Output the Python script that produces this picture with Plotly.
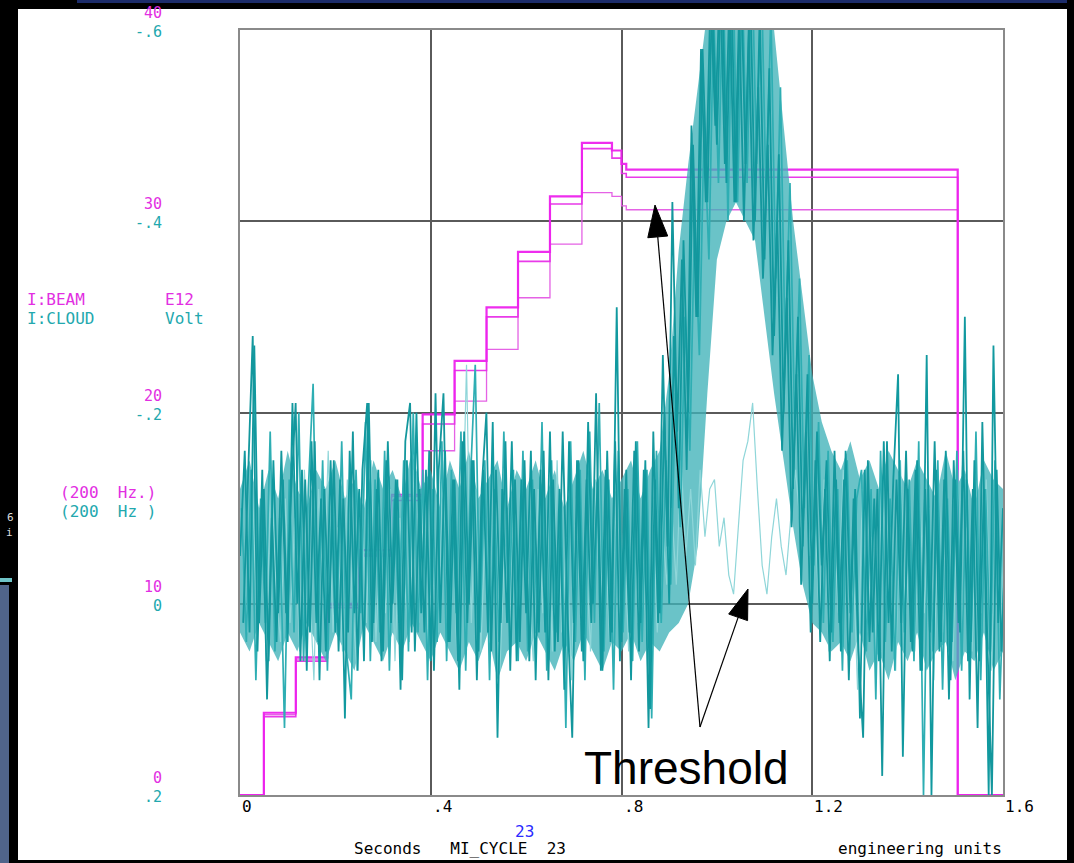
import numpy as np
import plotly.graph_objects as go

# ---------------- data ----------------
# cloud detector traces (Volt), sampled every 0.01 s from 0 to 1.6 s
t_cloud = np.round(np.arange(161) * 0.01, 4)

cloud_a = [
    -0.05, -0.16, 0.03, -0.27, 0.02, -0.12, 0.06, -0.15, 0.01, -0.13,
    0.04, -0.21, 0.00, -0.14, 0.07, -0.17, 0.02, -0.11, 0.05, -0.15,
    0.03, -0.13, 0.12, -0.16, 0.01, -0.12, 0.06, -0.21, 0.02, -0.14,
    0.05, -0.17, 0.00, -0.13, 0.08, -0.15, 0.03, -0.20, 0.01, -0.14,
    0.06, -0.22, 0.02, -0.16, 0.04, -0.13, 0.09, -0.18, 0.00, -0.15,
    0.05, -0.14, 0.03, -0.19, 0.14, -0.12, 0.02, -0.17, 0.06, -0.13,
    0.01, -0.16, 0.08, -0.14, 0.03, -0.18, 0.05, -0.12, 0.09, -0.17,
    0.02, -0.15, 0.06, -0.19, 0.00, -0.13, 0.07, -0.16, 0.03, -0.31,
    0.04, -0.14, 0.08, -0.17, 0.02, -0.15, 0.11, -0.13, 0.01, -0.20,
    0.00, -0.28, -0.10, -0.38, -0.20, -0.48, -0.30, -0.58, -0.42, -0.64,
    -0.48, -0.68, -0.44, -0.66, -0.42, -0.67, -0.46, -0.65, -0.40, -0.62,
    -0.36, -0.56, -0.28, -0.47, -0.20, -0.38, -0.12, -0.30, -0.06, -0.24,
    0.00, -0.18, -0.04, -0.15, 0.03, -0.13, 0.05, -0.16, 0.01, -0.12,
    0.12, -0.14, 0.04, -0.11, 0.06, -0.17, 0.02, -0.13, -0.24, 0.16,
    -0.12, 0.05, -0.15, 0.07, -0.26, 0.20, -0.14, 0.04, -0.16, 0.08,
    -0.13, 0.03, -0.30, 0.10, -0.15, 0.06, -0.12, 0.20, -0.27, 0.02,
    -0.10,
]

cloud_b = [
    -0.10, 0.04, -0.14, 0.08, -0.11, 0.02, -0.18, 0.05, -0.09, 0.13,
    -0.13, 0.03, -0.20, 0.06, -0.12, -0.23, 0.04, -0.15, 0.07, -0.12,
    0.02, -0.17, 0.05, 0.10, -0.14, 0.01, -0.19, 0.06, -0.13, 0.03,
    -0.16, 0.07, -0.11, 0.02, -0.15, 0.05, -0.20, 0.03, -0.14, 0.08,
    -0.12, 0.04, -0.17, 0.06, -0.14, 0.01, -0.18, 0.07, -0.13, -0.25,
    0.03, -0.15, 0.08, -0.12, 0.04, -0.18, 0.02, -0.14, 0.06, -0.16,
    0.05, -0.13, 0.02, -0.19, 0.07, -0.15, 0.03, -0.11, 0.13, -0.17,
    0.04, -0.14, 0.08, -0.18, 0.02, -0.21, 0.05, -0.13, 0.09, -0.16,
    0.03, -0.12, 0.06, -0.17, 0.04, -0.14, 0.12, -0.16, 0.02, -0.15,
    -0.02, -0.22, -0.08, -0.30, -0.16, -0.40, -0.26, -0.50, -0.36, -0.62,
    -0.44, -0.66, -0.40, -0.68, -0.42, -0.65, -0.44, -0.68, -0.46, -0.66,
    -0.42, -0.62, -0.34, -0.54, -0.26, -0.44, -0.18, -0.34, -0.10, -0.26,
    -0.04, -0.19, 0.02, -0.16, 0.04, -0.12, 0.07, -0.15, 0.03, -0.11,
    -0.14, 0.05, -0.12, 0.10, -0.16, 0.04, -0.11, 0.07, -0.15, 0.03,
    -0.13, 0.06, -0.17, 0.20, -0.12, 0.05, -0.15, 0.09, -0.11, 0.04,
    -0.16, 0.07, -0.13, 0.04, -0.18, 0.08, -0.12, 0.05, -0.15, 0.10,
    -0.05,
]

cloud_c = [
    0.02, -0.12, -0.28, 0.05, -0.14, 0.10, -0.09, 0.04, -0.16, 0.01,
    -0.11, -0.21, 0.06, -0.13, 0.03, -0.17, 0.08, -0.12, 0.02, -0.15,
    0.05, -0.11, 0.03, -0.18, 0.07, -0.14, -0.21, 0.04, -0.12, 0.06,
    -0.15, 0.02, -0.13, 0.09, -0.17, -0.21, 0.05, -0.12, 0.03, -0.16,
    0.07, -0.14, -0.22, 0.04, -0.13, 0.06, -0.17, 0.02, -0.15, 0.08,
    -0.12, -0.20, 0.05, -0.14, 0.02, -0.17, 0.07, -0.13, 0.04, -0.15,
    0.06, -0.12, 0.03, -0.16, 0.08, -0.13, 0.04, -0.18, 0.01, 0.14,
    -0.15, 0.05, -0.13, 0.02, -0.22, 0.07, -0.14, 0.04, -0.17, 0.06,
    -0.12, 0.03, -0.16, 0.05, -0.14, 0.13, -0.18, 0.02, -0.26, -0.06,
    -0.42, -0.18, -0.36, -0.14, -0.50, -0.30, -0.58, -0.42, -0.64, -0.50,
    -0.66, -0.46, -0.64, -0.42, -0.62, -0.40, -0.60, -0.38, -0.54, -0.34,
    -0.48, -0.26, -0.40, -0.16, -0.32, -0.08, -0.24, -0.02, -0.18, 0.03,
    -0.15, 0.04, -0.12, 0.06, -0.16, 0.02, -0.13, 0.08, -0.11, 0.05,
    0.14, -0.15, 0.03, -0.12, 0.18, -0.17, 0.05, -0.13, 0.02, -0.16,
    0.04, -0.14, 0.07, -0.12, 0.03, -0.17, 0.05, -0.13, 0.10, -0.15,
    0.02, -0.16, 0.06, -0.12, 0.13, -0.19, 0.03, 0.20, -0.14, 0.05,
    -0.08,
]

# the one cycle without the cloud peak ("threshold" trace)
cloud_q = [
    -0.06, 0.03, -0.13, 0.01, -0.10, 0.06, -0.15, -0.02, 0.04, -0.11,
    0.02, -0.09, 0.05, -0.14, -0.03, 0.08, -0.12, 0.00, -0.16, 0.03,
    -0.08, 0.05, -0.13, -0.01, 0.07, -0.10, 0.02, -0.15, 0.04, -0.07,
    0.01, -0.12, 0.06, -0.09, -0.02, 0.04, -0.14, 0.02, -0.10, 0.05,
    -0.07, 0.03, -0.15, 0.00, -0.11, 0.06, -0.04, -0.25, 0.02, -0.12,
    0.05, -0.09, 0.01, -0.14, 0.07, -0.06, 0.02, -0.13, 0.04, -0.10,
    -0.02, 0.06, -0.12, 0.01, -0.09, 0.05, -0.15, 0.03, -0.07, 0.08,
    -0.11, 0.02, -0.06, 0.05, -0.13, 0.00, -0.09, 0.04, -0.14, 0.01,
    -0.08, 0.05, -0.12, 0.02, -0.06, 0.07, -0.11, 0.03, -0.09, -0.02,
    -0.10, -0.02, -0.15, -0.05, -0.12, -0.04, -0.14, -0.07, -0.12, -0.13,
    -0.06, -0.09, -0.03, -0.01, -0.08, -0.15, -0.17, -0.21, -0.12, -0.04,
    -0.01, -0.07, -0.11, -0.06, -0.03, -0.09, -0.14, -0.08, -0.15, -0.05,
    -0.10, 0.02, -0.13, 0.05, -0.08, 0.01, -0.14, 0.04, -0.06, 0.09,
    -0.12, 0.03, -0.07, 0.06, -0.13, 0.00, -0.09, 0.07, -0.15, 0.02,
    -0.06, 0.05, -0.12, 0.01, -0.10, 0.08, -0.13, 0.03, -0.07, 0.06,
    -0.14, 0.02, -0.08, 0.05, -0.11, 0.01, -0.13, 0.07, -0.05, 0.03,
    -0.09,
]

# dense core of the overlaid cloud traces (Volt), every 0.02 s
t_core = np.round(np.arange(81) * 0.02, 4)
core_top = [
    -0.12, -0.15, -0.10, -0.14, -0.11, -0.16, -0.12, -0.10, -0.14, -0.12,
    -0.15, -0.11, -0.13, -0.10, -0.15, -0.12, -0.14, -0.11, -0.16, -0.12,
    -0.14, -0.10, -0.15, -0.12, -0.16, -0.11, -0.13, -0.15, -0.10, -0.14,
    -0.12, -0.15, -0.11, -0.14, -0.10, -0.13, -0.16, -0.12, -0.14, -0.11,
    -0.13, -0.15, -0.11, -0.14, -0.16, -0.24, -0.37, -0.46, -0.54, -0.62,
    -0.64, -0.64, -0.64, -0.64, -0.64, -0.64, -0.60, -0.50, -0.40, -0.32,
    -0.24, -0.19, -0.16, -0.14, -0.17, -0.13, -0.15, -0.12, -0.16, -0.14,
    -0.12, -0.15, -0.13, -0.11, -0.16, -0.12, -0.14, -0.10, -0.15, -0.13,
    -0.12,
]
core_bot = [
    0.03, 0.05, 0.02, 0.04, 0.06, 0.03, 0.05, 0.02, 0.04, 0.06,
    0.03, 0.05, 0.07, 0.02, 0.04, 0.06, 0.03, 0.05, 0.02, 0.04,
    0.06, 0.03, 0.05, 0.07, 0.04, 0.06, 0.03, 0.08, 0.05, 0.04,
    0.06, 0.03, 0.05, 0.07, 0.04, 0.06, 0.03, 0.05, 0.07, 0.04,
    0.05, 0.03, 0.06, 0.04, 0.05, 0.03, 0.02, 0.00, -0.06, -0.22,
    -0.36, -0.40, -0.42, -0.40, -0.38, -0.30, -0.22, -0.15, -0.08, -0.02,
    0.02, 0.03, 0.05, 0.04, 0.06, 0.03, 0.07, 0.05, 0.08, 0.04,
    0.06, 0.03, 0.07, 0.05, 0.04, 0.08, 0.05, 0.06, 0.03, 0.07,
    0.05,
]

# beam intensity (E12), stepped by booster batches
beam_t = [0, 0.05, 0.117, 0.183, 0.25, 0.317, 0.383, 0.45, 0.517, 0.583,
          0.65, 0.717, 0.78, 0.80, 0.81, 1.505, 1.6]
beam_main = [0, 4.3, 7.2, 10.0, 12.8, 15.7, 19.9, 22.7, 25.5, 28.4,
             31.3, 34.1, 33.7, 33.0, 32.7, 0, 0]
beam_b = [0, 4.1, 7.0, 9.8, 12.5, 15.4, 19.4, 22.2, 25.0, 27.9,
          30.9, 33.8, 33.3, 32.5, 32.3, 0, 0]
beam_low = [0, 4.2, 7.1, 9.9, 12.6, 15.6, 18.0, 20.6, 23.3, 26.0,
            28.8, 31.5, 31.3, 30.8, 30.6, 0, 0]

x_ticks = [0, 0.4, 0.8, 1.2, 1.6]
x_tick_text = ["0", ".4", ".8", "1.2", "1.6"]
beam_ticks = [40, 30, 20, 10, 0]
cloud_ticks = [-0.6, -0.4, -0.2, 0, 0.2]
cloud_tick_text = ["-.6", "-.4", "-.2", "0", ".2"]

# ---------------- layout helpers ----------------
W, H = 1074, 863
L, R, T, B = 240, 1003, 30, 795


def px(x):
    return (x - L) / (R - L)


def py(y):
    return (B - y) / (B - T)


MAG = "#e22ee2"
CYAN_TXT = "#22a8ae"
MONO = "DejaVu Sans Mono"
FS = 15

fig = go.Figure()

# dense core band
fig.add_trace(go.Scatter(x=t_core, y=core_bot, mode="lines", line=dict(width=0),
                         yaxis="y2", hoverinfo="skip", showlegend=False))
fig.add_trace(go.Scatter(x=t_core, y=core_top, mode="lines", line=dict(width=0),
                         fill="tonexty", fillcolor="rgba(64,178,184,0.78)",
                         yaxis="y2", hoverinfo="skip", showlegend=False))

cloud_styles = [
    (cloud_q, 0.005, "#8fd6d9", 1.2),
    (cloud_b, 0.0033, "#2eaeb3", 1.7),
    (cloud_a, 0.0, "#11999f", 1.8),
    (cloud_c, 0.0067, "#13979d", 1.8),
]
for vals, off, col, w in cloud_styles:
    fig.add_trace(go.Scatter(x=t_cloud + off, y=vals, mode="lines",
                             line=dict(color=col, width=w), yaxis="y2",
                             hoverinfo="skip", showlegend=False))

for vals, col, w in [(beam_low, "#e45ae4", 1.3), (beam_b, "#e830e8", 1.6),
                     (beam_main, "#ee22ee", 2.2)]:
    fig.add_trace(go.Scatter(x=beam_t, y=vals, mode="lines", line_shape="hv",
                             line=dict(color=col, width=w), opacity=0.95,
                             hoverinfo="skip", showlegend=False))

annotations = []
# x tick labels
for v, s in zip(x_ticks, x_tick_text):
    annotations.append(dict(x=v, y=py(806), xref="x", yref="paper", text=s,
                            showarrow=False, xanchor="left", yanchor="middle",
                            font=dict(family=MONO, size=16, color="black")))
# y tick labels (beam magenta above, cloud cyan below)
for v in beam_ticks:
    annotations.append(dict(x=px(164), y=v, xref="paper", yref="y", text=str(v),
                            showarrow=False, xanchor="right", yanchor="middle",
                            yshift=17, font=dict(family=MONO, size=FS, color=MAG)))
for v, s in zip(cloud_ticks, cloud_tick_text):
    annotations.append(dict(x=px(164), y=v, xref="paper", yref="y2", text=s,
                            showarrow=False, xanchor="right", yanchor="middle",
                            yshift=-2, font=dict(family=MONO, size=FS, color=CYAN_TXT)))

nb = "\u00a0"
labels = [
    ("I:BEAM", 25, 299, MAG, "left"),
    ("E12", 163, 299, MAG, "left"),
    ("I:CLOUD", 25, 318, CYAN_TXT, "left"),
    ("Volt", 163, 318, CYAN_TXT, "left"),
    ("(200" + nb * 2 + "Hz.)", 58, 492, MAG, "left"),
    ("(200" + nb * 2 + "Hz" + nb + ")", 58, 511, CYAN_TXT, "left"),
    ("23", 524, 831, "#2a2aff", "center"),
    ("Seconds" + nb * 3 + "MI_CYCLE" + nb * 2 + "23", 352, 848, "black", "left"),
    ("engineering" + nb + "units", 836, 848, "black", "left"),
]
for s, x, y, c, anc in labels:
    annotations.append(dict(x=px(x), y=py(y), xref="paper", yref="paper", text=s,
                            showarrow=False, xanchor=anc, yanchor="middle",
                            font=dict(family=MONO, size=16, color=c)))

annotations.append(dict(x=px(686), y=py(768), xref="paper", yref="paper",
                        text="Threshold", showarrow=False, xanchor="center",
                        yanchor="middle",
                        font=dict(family="Liberation Sans", size=46, color="black")))
# small bits on the dark left strip
annotations.append(dict(x=px(5), y=py(517), xref="paper", yref="paper", text="6",
                        showarrow=False, font=dict(family=MONO, size=11, color="#dddddd")))
annotations.append(dict(x=px(4), y=py(541), xref="paper", yref="paper", text="i",
                        showarrow=False, font=dict(family=MONO, size=11, color="#dddddd")))

shapes = []


def rect(x0, y0, x1, y1, color):
    shapes.append(dict(type="rect", xref="paper", yref="paper",
                       x0=px(x0), x1=px(x1), y0=py(y1), y1=py(y0),
                       fillcolor=color, line=dict(width=0), layer="above"))


rect(0, 0, 18, H, "black")
rect(0, 0, W, 9, "black")
rect(77, 0, W, 3, "#1c2c6a")
rect(1067, 0, W, H, "black")
rect(0, 860, W, H, "black")
rect(0, 585, 9, H, "#50648a")
rect(0, 578, 12, 582, "#6fc4c8")


def arrow(tail, tip, hl=32, hw=10):
    tail = np.array(tail, float)
    tip = np.array(tip, float)
    d = tip - tail
    d /= np.linalg.norm(d)
    perp = np.array([-d[1], d[0]])
    base = tip - hl * d
    shapes.append(dict(type="line", xref="paper", yref="paper",
                       x0=px(tail[0]), y0=py(tail[1]), x1=px(base[0]), y1=py(base[1]),
                       line=dict(color="black", width=1.2), layer="above"))
    p1 = base + hw * perp
    p2 = base - hw * perp
    path = "M {} {} L {} {} L {} {} Z".format(px(tip[0]), py(tip[1]), px(p1[0]), py(p1[1]),
                                             px(p2[0]), py(p2[1]))
    shapes.append(dict(type="path", xref="paper", yref="paper", path=path,
                       fillcolor="black", line=dict(color="black", width=1), layer="above"))


arrow((700, 727), (655, 205))
arrow((700, 727), (748, 589), hl=30, hw=10)

fig.update_layout(
    width=W, height=H,
    margin=dict(l=L, r=W - R, t=T, b=H - B),
    paper_bgcolor="white", plot_bgcolor="white",
    showlegend=False,
    xaxis=dict(range=[0, 1.6], tickvals=x_ticks, showticklabels=False, ticks="",
               showgrid=True, gridcolor="#5a5a5a", gridwidth=1.5, zeroline=False,
               showline=True, linecolor="#8a8a8a", linewidth=2, mirror=True),
    yaxis=dict(range=[0, 40], tickvals=beam_ticks, showticklabels=False, ticks="",
               showgrid=True, gridcolor="#5a5a5a", gridwidth=1.5, zeroline=False,
               showline=True, linecolor="#8a8a8a", linewidth=2, mirror=True),
    yaxis2=dict(range=[0.2, -0.6], overlaying="y", showticklabels=False, ticks="",
                showgrid=False, zeroline=False, showline=False),
    annotations=annotations,
    shapes=shapes,
)

fig.write_html("out.html")
